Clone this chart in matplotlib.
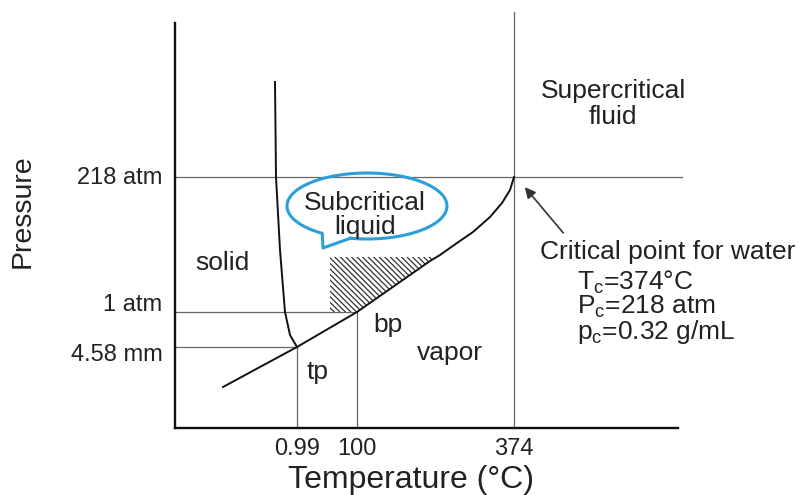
import numpy as np
import matplotlib
matplotlib.use("Agg")
import matplotlib.pyplot as plt
from matplotlib.patches import Polygon
from matplotlib.transforms import ScaledTranslation

plt.rcParams['font.family'] = ['Liberation Sans', 'DejaVu Sans']
plt.rcParams['hatch.linewidth'] = 0.9

# schematic positions (diagram units, not to scale)
t_ticks = [122, 182, 339]
t_labels = ['0.99', '100', '374']
p_ticks = [81, 116, 251]
p_labels = ['4.58 mm', '1 atm', '218 atm']
p_label_shift = [-4, 7, 1]   # small vertical nudges of the labels, in points

# triple point, boiling point, critical point
tp = (122, 81)
bp = (182, 116)
cp = (339, 251)

# solid/liquid line, top down to the triple point
melt_t = [100, 101, 105, 110, 115, 122]
melt_p = [346, 251, 178, 116, 93, 81]

# sublimation + vapour pressure line up to the critical point
vap_t = [48, 122, 182, 255, 265, 282, 298, 315, 327, 335, 339]
vap_p = [41, 81, 116, 167, 173, 185, 196, 211, 225, 238, 251]

# shaded subcritical-liquid region
shade_t = [155, 182, 255, 262, 155]
shade_p = [116, 116, 167, 171, 171]

crit_lines = [r'T$_\mathregular{c}$=374°C', r'P$_\mathregular{c}$=218 atm',
              r'p$_\mathregular{c}$=0.32 g/mL']

fig = plt.figure(figsize=(7.98, 4.95), dpi=100)
ax = fig.add_axes([175 / 798, 67 / 495, 503 / 798, 405 / 495])
ax.set_xlim(0, 503)
ax.set_ylim(0, 405)

for s in ['top', 'right']:
    ax.spines[s].set_visible(False)
for s in ['left', 'bottom']:
    ax.spines[s].set_linewidth(1.7)
    ax.spines[s].set_color('#111111')

ax.set_xticks(t_ticks, t_labels, fontsize=17, color='#222222')
ax.set_yticks(p_ticks, p_labels, fontsize=17, color='#222222')
ax.tick_params(axis='x', length=0, pad=7)
ax.tick_params(axis='y', length=0, pad=9)
for lbl, dy in zip(ax.get_yticklabels(), p_label_shift):
    lbl.set_transform(lbl.get_transform() + ScaledTranslation(0, dy / 72, fig.dpi_scale_trans))

# guide lines
gkw = dict(color='#666666', lw=0.9, zorder=1)
ax.plot([0, tp[0]], [tp[1], tp[1]], **gkw)
ax.plot([tp[0], tp[0]], [0, tp[1]], **gkw)
ax.plot([0, bp[0]], [bp[1], bp[1]], **gkw)
ax.plot([bp[0], bp[0]], [0, bp[1]], **gkw)
ax.plot([0, 507], [cp[1], cp[1]], clip_on=False, **gkw)
ax.plot([cp[0], cp[0]], [0, 416], clip_on=False, **gkw)

# phase boundaries
ax.plot(melt_t, melt_p, color='#111111', lw=1.4, zorder=3)
ax.plot(vap_t, vap_p, color='#111111', lw=1.4, zorder=3)

ax.add_patch(Polygon(np.column_stack([shade_t, shade_p]), closed=True,
                     facecolor='white', edgecolor='#333333', linewidth=0,
                     hatch='\\\\\\\\\\\\', zorder=2))

# speech bubble
cx, cy, a, b = 192, 222, 80, 33
th = np.radians(np.linspace(258, 596, 200))
bub_x = list(cx + a * np.cos(th)) + [148, cx + a * np.cos(np.radians(258))]
bub_y = list(cy + b * np.sin(th)) + [180, cy + b * np.sin(np.radians(258))]
ax.plot(bub_x, bub_y, color='#2a9fd8', lw=2.2, zorder=4, clip_on=False)
ax.text(190, 213, 'Subcritical\nliquid', fontsize=19, ha='center', va='center',
        color='#222222', linespacing=1.05, zorder=5)

tkw = dict(fontsize=19, color='#222222')
ax.text(438, 324, 'Supercritical\nfluid', ha='center', va='center', linespacing=1.1,
        clip_on=False, **tkw)
ax.text(47, 165, 'solid', ha='center', va='center', **tkw)
ax.text(198, 103, 'bp', ha='left', va='center', **tkw)
ax.text(132, 56, 'tp', ha='left', va='center', **tkw)
ax.text(275, 75, 'vapor', ha='center', va='center', **tkw)
ax.text(365, 176, 'Critical point for water', ha='left', va='center', clip_on=False, **tkw)
ax.text(402, 121, '\n'.join(crit_lines), ha='left', va='center', linespacing=0.9,
        clip_on=False, **tkw)

ax.annotate('', xy=(348, 243), xytext=(390, 193),
            arrowprops=dict(arrowstyle='-|>', color='#333333', lw=1.2, mutation_scale=16))

ax.set_xlabel('Temperature (°C)', fontsize=23, color='#222222')
ax.set_ylabel('Pressure', fontsize=20.5, color='#222222')
ax.xaxis.set_label_coords(0.469, -0.128)
ax.xaxis.label.set_va('center')
ax.yaxis.set_label_coords(-0.302, 0.536)
ax.yaxis.label.set_va('center')

fig.savefig('out.png', dpi=100)
